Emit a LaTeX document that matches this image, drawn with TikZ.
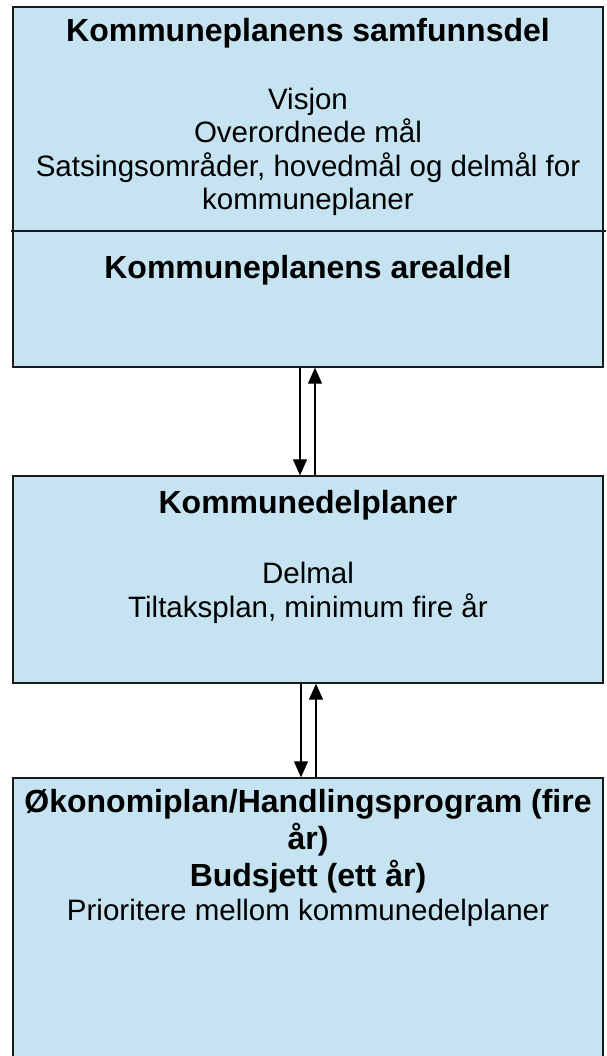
\documentclass[tikz,border=0pt]{standalone}
\usepackage{fontspec}
\setmainfont{Liberation Sans}
\usetikzlibrary{arrows.meta}
\definecolor{planblue}{RGB}{198,227,241}
\definecolor{planline}{RGB}{26,26,26}

\begin{document}
\begin{tikzpicture}[
		x=1pt, y=-1pt,
		every node/.style={inner sep=0pt},
		box/.style={rectangle, draw=planline, line width=1.3pt, fill=planblue, minimum width=590pt},
		title/.style={font=\fontsize{32}{37}\selectfont\bfseries, align=center},
		body/.style={font=\fontsize{29.5}{33.5}\selectfont, align=center},
		link/.style={line width=1.1pt, -{Triangle[length=16pt, width=14pt]}}
	]
  \useasboundingbox (0,0) rectangle (606,1056);
  % boxes
  \node (samfunn) [box, minimum height=224pt] at (308,119) {};
  \node (areal) [box, minimum height=136pt] at (308,299) {};
  \node (delplan) [box, minimum height=207pt] at (308,579.5) {};
  \node (okonomi) [box, minimum height=290pt] at (308,923) {};
  \coordinate (sepL) at (11,231);
  \coordinate (sepR) at (606,231);
  \draw [line width=1.3pt, planline] (sepL) -- (sepR);
  % texts
  \node (t_samfunn) [title] at (308,33) {Kommuneplanens samfunnsdel};
  \node (b_samfunn) [body] at (308,152) {Visjon\\ Overordnede mål\\ Satsingsområder, hovedmål og delmål for\\ kommuneplaner};
  \node (t_areal) [title] at (308,270) {Kommuneplanens arealdel};
  \node (t_delplan) [title] at (308,505) {Kommunedelplaner};
  \node (b_delplan) [body] at (308,593) {Delmal\\ Tiltaksplan, minimum fire år};
  \node (t_okonomi) [title] at (308,841) {Økonomiplan/Handlingsprogram (fire\\ år)\\ Budsjett (ett år)};
  \node (b_okonomi) [body] at (308,913) {Prioritere mellom kommunedelplaner};
  % connectors
  \coordinate (down1) at (300,0);
  \coordinate (up1) at (315,0);
  \coordinate (down2) at (301,0);
  \coordinate (up2) at (316,0);
  \draw [link] (down1 |- areal.south) -- (down1 |- delplan.north);
  \draw [link] (up1 |- delplan.north) -- (up1 |- areal.south);
  \draw [link] (down2 |- delplan.south) -- (down2 |- okonomi.north);
  \draw [link] (up2 |- okonomi.north) -- (up2 |- delplan.south);
\end{tikzpicture}
\end{document}
